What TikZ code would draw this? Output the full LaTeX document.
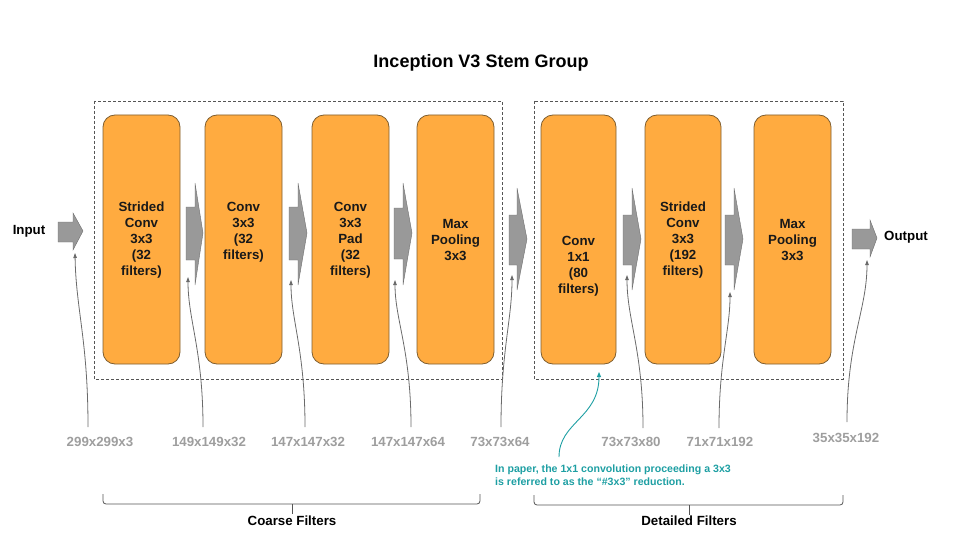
\documentclass[tikz,border=0pt]{standalone}
\usepackage{fontspec}
\setmainfont{Liberation Sans}
\usetikzlibrary{arrows.meta}
\definecolor{convfill}{HTML}{FFAB40}
\definecolor{convdraw}{HTML}{7E5E30}
\definecolor{arrfill}{HTML}{999999}
\definecolor{arrdraw}{HTML}{6E6E6E}
\definecolor{dimgray}{HTML}{9E9E9E}
\definecolor{linkgray}{HTML}{6A6A6A}
\definecolor{noteteal}{HTML}{1E9FA3}
\definecolor{framegray}{HTML}{555555}
\begin{document}
\begin{tikzpicture}[x=1pt,y=-1pt,
  convbox/.style={draw=convdraw,fill=convfill,line width=0.8pt,rounded corners=12pt,minimum height=249pt,inner sep=0pt},
  boxtext/.style={align=center,font=\bfseries\fontsize{13.3}{16}\selectfont,text=black!90,inner sep=0pt},
  blockarr/.style={fill=arrfill,draw=arrdraw,line width=0.4pt},
  dimlabel/.style={font=\bfseries\fontsize{13.3}{16}\selectfont,text=dimgray,inner sep=0pt},
  dimlink/.style={draw=linkgray,line width=0.8pt,-{Triangle[length=5pt,width=3.5pt]}},
  groupframe/.style={draw=framegray,line width=0.7pt,dash pattern=on 3pt off 2pt},
  bracket/.style={draw=framegray,line width=0.8pt,rounded corners=3pt},
  plain/.style={font=\bfseries\fontsize{13.3}{16}\selectfont,inner sep=0pt},
  note/.style={font=\bfseries\fontsize{10.6}{13}\selectfont,text=noteteal,align=left,inner sep=0pt},
]
\useasboundingbox (0,0) rectangle (960,540);

% title
\node[font=\bfseries\fontsize{18}{20}\selectfont] (title) at (481,63) {Inception V3 Stem Group};

% group frames
\draw[groupframe] (94,101) rectangle (502,379);
\draw[groupframe] (534,101) rectangle (843,379);

% boxes
\node[convbox,minimum width=77pt] (b1) at (141.5,239.5) {};
\node[convbox,minimum width=77pt] (b2) at (243.5,239.5) {};
\node[convbox,minimum width=77pt] (b3) at (350.5,239.5) {};
\node[convbox,minimum width=77pt] (b4) at (455.5,239.5) {};
\node[convbox,minimum width=75pt] (b5) at (578.5,239.5) {};
\node[convbox,minimum width=76pt] (b6) at (683,239.5) {};
\node[convbox,minimum width=77pt] (b7) at (792.5,239.5) {};

\node[boxtext] (t1) at (141.5,240) {Strided\\Conv\\3x3\\(32\\filters)};
\node[boxtext] (t2) at (243.5,232) {Conv\\3x3\\(32\\filters)};
\node[boxtext] (t3) at (350.5,240) {Conv\\3x3\\Pad\\(32\\filters)};
\node[boxtext] (t4) at (455.5,240) {Max\\Pooling\\3x3};
\node[boxtext] (t5) at (578.5,266) {Conv\\1x1\\(80\\filters)};
\node[boxtext] (t6) at (683,240) {Strided\\Conv\\3x3\\(192\\filters)};
\node[boxtext] (t7) at (792.5,240) {Max\\Pooling\\3x3};

% input / output
\node[plain] (inp) at (29,231) {Input};
\node[plain] (outp) at (906,237) {Output};

% block arrows
\draw[blockarr] (58,222) -- (73,222) -- (73,213) -- (83,231) -- (73,250) -- (73,242) -- (58,242) -- cycle;
\draw[blockarr] (186,207) -- (195,207) -- (195,183) -- (203,233) -- (195,285) -- (195,260) -- (186,260) -- cycle;
\draw[blockarr] (289,207) -- (298,207) -- (298,183) -- (307,233) -- (298,285) -- (298,260) -- (289,260) -- cycle;
\draw[blockarr] (394,208) -- (403,208) -- (403,183) -- (412,233) -- (403,285) -- (403,259) -- (394,259) -- cycle;
\draw[blockarr] (509,215) -- (517,215) -- (517,188) -- (527,239) -- (517,290) -- (517,265) -- (509,265) -- cycle;
\draw[blockarr] (623,215) -- (632,215) -- (632,188) -- (641,239) -- (632,290) -- (632,265) -- (623,265) -- cycle;
\draw[blockarr] (725,215) -- (734,215) -- (734,188) -- (743,239) -- (734,290) -- (734,265) -- (725,265) -- cycle;
\draw[blockarr] (852,229) -- (870,229) -- (870,220) -- (877,238) -- (870,257) -- (870,249) -- (852,249) -- cycle;

% dimension labels
\node[dimlabel] (d1) at (100,442) {299x299x3};
\node[dimlabel] (d2) at (209,442) {149x149x32};
\node[dimlabel] (d3) at (308,442) {147x147x32};
\node[dimlabel] (d4) at (408,442) {147x147x64};
\node[dimlabel] (d5) at (500,442) {73x73x64};
\node[dimlabel] (d6) at (631,442) {73x73x80};
\node[dimlabel] (d7) at (720,442) {71x71x192};
\node[dimlabel] (d8) at (846,438) {35x35x192};

\coordinate (s1) at (88,427);  \coordinate (e1) at (75,253);
\coordinate (s2) at (203,427); \coordinate (e2) at (188,277);
\coordinate (s3) at (305,427); \coordinate (e3) at (291,280);
\coordinate (s4) at (411,427); \coordinate (e4) at (395,280);
\coordinate (s5) at (501,427); \coordinate (e5) at (512,275);
\coordinate (s6) at (643,428); \coordinate (e6) at (627,275);
\coordinate (s7) at (719,428); \coordinate (e7) at (730,292);
\coordinate (s8) at (847,422); \coordinate (e8) at (867,260);

\draw[dimlink] (s1) .. controls (88,340) and (76,310) .. (e1);
\draw[dimlink] (s2) .. controls (203,350) and (188,320) .. (e2);
\draw[dimlink] (s3) .. controls (305,350) and (291,320) .. (e3);
\draw[dimlink] (s4) .. controls (411,350) and (395,320) .. (e4);
\draw[dimlink] (s5) .. controls (501,350) and (512,320) .. (e5);
\draw[dimlink] (s6) .. controls (643,350) and (627,320) .. (e6);
\draw[dimlink] (s7) .. controls (719,360) and (730,330) .. (e7);
\draw[dimlink] (s8) .. controls (847,340) and (867,310) .. (e8);

% note
\node[note,anchor=west] (nt) at (495,475.5) {In paper, the 1x1 convolution proceeding a 3x3\\is referred to as the “\#3x3” reduction.};
\coordinate (ns) at (559,457);
\coordinate (ne) at (599,372);
\draw[draw=noteteal,line width=0.9pt,-{Triangle[length=5pt,width=4pt]}] (ns) .. controls (559,422) and (599,418) .. (ne);

% brackets
\draw[bracket] (103,494) -- (103,504) -- (480,504) -- (480,494);
\draw[bracket] (292,504) -- (292,514);
\node[plain] (coarse) at (292,521) {Coarse Filters};
\draw[bracket] (534,495) -- (534,505) -- (843,505) -- (843,495);
\draw[bracket] (689,505) -- (689,515);
\node[plain] (detail) at (689,521) {Detailed Filters};
\end{tikzpicture}
\end{document}
